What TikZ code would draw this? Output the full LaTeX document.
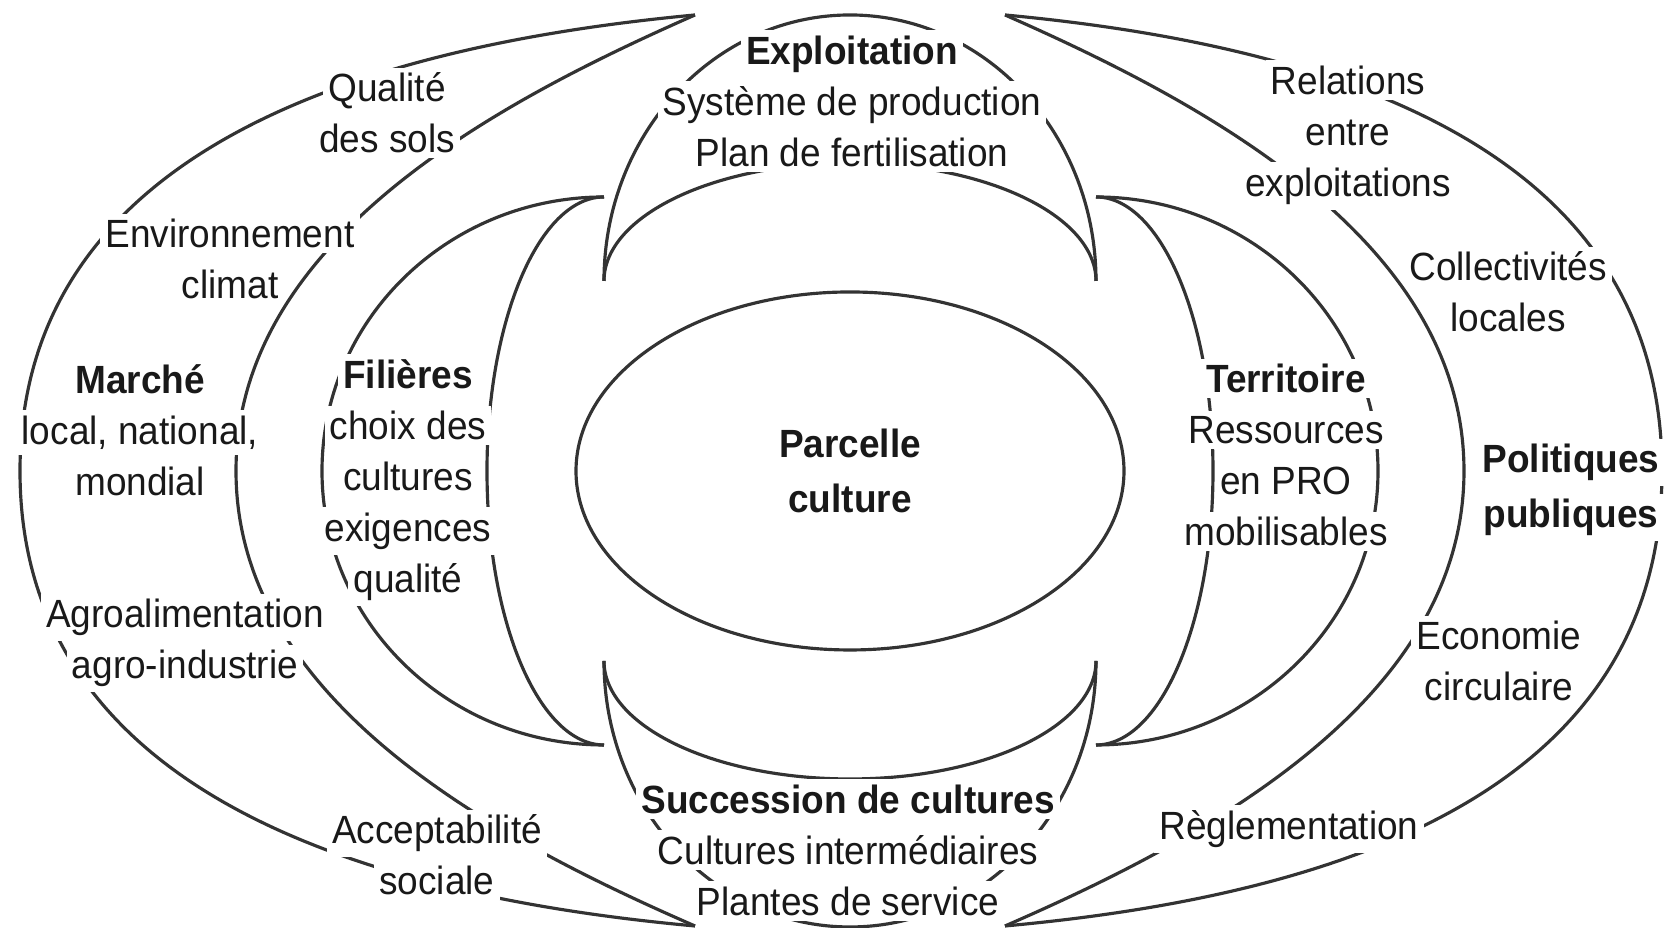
\documentclass[tikz,border=0pt]{standalone}
\usepackage{fontspec}
\setmainfont{Liberation Sans}[FakeStretch=0.94]
\newcommand{\wb}[1]{{\setlength{\fboxsep}{1.5pt}\colorbox{white}{#1}}}

\begin{document}
\begin{tikzpicture}[
  lune/.style={draw=black!80, line width=0.9pt},
  lbl/.style={align=center, inner sep=0pt, text=black!90, font=\fontsize{11.2}{14.5}\selectfont},
  bold/.style={lbl, font=\fontsize{11.2}{14.5}\selectfont\bfseries}
]
\useasboundingbox (0,0) rectangle (16.67,9.28);

% tips of the bands
\coordinate (EL) at (6.04,6.47);
\coordinate (SL) at (6.04,2.67);
\coordinate (FT) at (6.04,7.31);
\coordinate (TT) at (10.96,7.31);
\coordinate (MT) at (6.95,9.13);
\coordinate (MB) at (6.95,0.02);
\coordinate (PT) at (10.05,9.13);
\coordinate (PB) at (10.05,0.02);

% parcelle
\draw [lune] (8.5,4.57) ellipse [x radius=2.74, y radius=1.79];

% exploitation / succession
\draw [lune] (EL) arc [start angle=180, end angle=0, x radius=2.46, y radius=2.66];
\draw [lune] (EL) arc [start angle=180, end angle=0, x radius=2.46, y radius=1.18];
\draw [lune] (SL) arc [start angle=180, end angle=360, x radius=2.46, y radius=2.66];
\draw [lune] (SL) arc [start angle=180, end angle=360, x radius=2.46, y radius=1.18];

% filieres / territoire
\draw [lune] (FT) arc [start angle=90, end angle=270, x radius=2.82, y radius=2.74];
\draw [lune] (FT) arc [start angle=90, end angle=270, x radius=1.17, y radius=2.74];
\draw [lune] (TT) arc [start angle=90, end angle=-90, x radius=2.82, y radius=2.74];
\draw [lune] (TT) arc [start angle=90, end angle=-90, x radius=1.17, y radius=2.74];

% marche / politiques
\draw [lune] (MT) .. controls (3.20,8.78) and (0.20,7.57) .. (0.20,4.57) .. controls (0.20,1.57) and (3.20,0.36) .. (MB);
\draw [lune] (MT) .. controls (4.95,8.25) and (2.36,6.87) .. (2.36,4.57) .. controls (2.36,2.27) and (4.95,0.89) .. (MB);
\draw [lune] (PT) .. controls (13.80,8.78) and (16.62,7.57) .. (16.62,4.57) .. controls (16.62,1.57) and (13.80,0.36) .. (PB);
\draw [lune] (PT) .. controls (12.05,8.25) and (14.64,6.87) .. (14.64,4.57) .. controls (14.64,2.27) and (12.05,0.89) .. (PB);

% labels
\node [bold, font=\fontsize{11.2}{15.5}\selectfont\bfseries] (parcelle) at (8.50,4.57) {\wb{Parcelle}\\\wb{culture}};
\node [lbl] (exploitation) at (8.52,8.27) {\wb{\textbf{Exploitation}}\\\wb{Système de production}\\\wb{Plan de fertilisation}};
\node [lbl] (succession) at (8.48,0.78) {\wb{\textbf{Succession de cultures}}\\\wb{Cultures intermédiaires}\\\wb{Plantes de service}};
\node [lbl] (marche) at (1.40,4.98) {\wb{\textbf{Marché}}\\\wb{local, national,}\\\wb{mondial}};
\node [lbl] (filieres) at (4.08,4.48) {\wb{\textbf{Filières}}\\\wb{choix des}\\\wb{cultures}\\\wb{exigences}\\\wb{qualité}};
\node [lbl] (territoire) at (12.86,4.73) {\wb{\textbf{Territoire}}\\\wb{Ressources}\\\wb{en PRO}\\\wb{mobilisables}};
\node [bold, font=\fontsize{11.2}{15.5}\selectfont\bfseries] (politiques) at (15.71,4.38) {\wb{Politiques}\\\wb{publiques}};

\node [lbl] (qualite) at (3.87,8.15) {\wb{Qualité}\\\wb{des sols}};
\node [lbl] (environnement) at (2.30,6.69) {\wb{Environnement}\\\wb{climat}};
\node [lbl] (agro) at (1.85,2.85) {\wb{Agroalimentation}\\\wb{agro-industrie}};
\node [lbl] (accept) at (4.37,0.73) {\wb{Acceptabilité}\\\wb{sociale}};
\node [lbl] (relations) at (13.48,7.93) {\wb{Relations}\\\wb{entre}\\\wb{exploitations}};
\node [lbl] (collectivites) at (15.08,6.36) {\wb{Collectivités}\\\wb{locales}};
\node [lbl] (economie) at (14.99,2.67) {\wb{Economie}\\\wb{circulaire}};
\node [lbl] (reglementation) at (12.89,0.99) {\wb{Règlementation}};
\end{tikzpicture}
\end{document}
